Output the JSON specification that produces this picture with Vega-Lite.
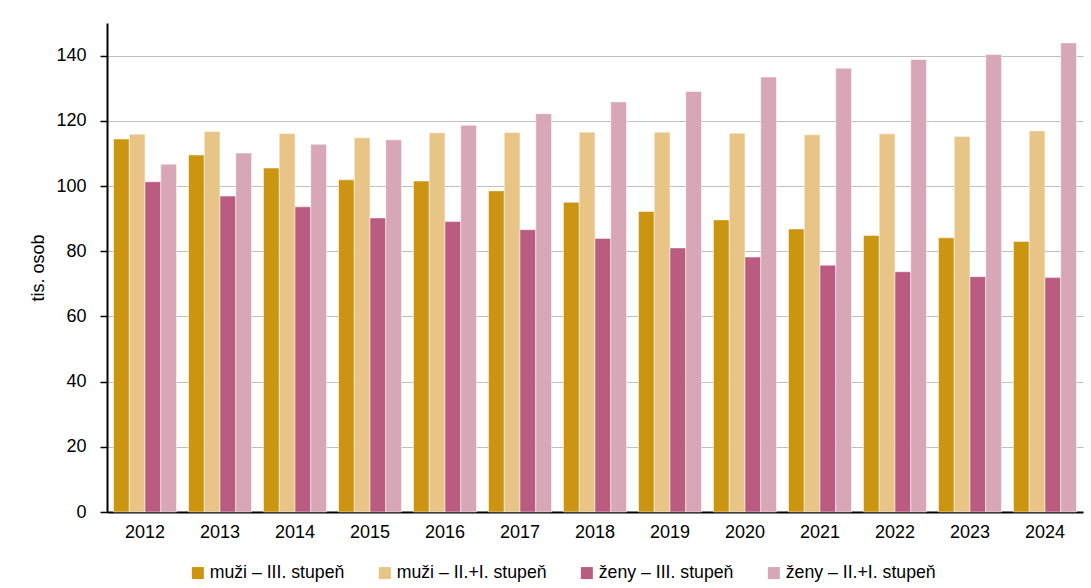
{
  "$schema": "https://vega.github.io/schema/vega-lite/v6.json",
  "width": 976,
  "height": 489,
  "autosize": {"type": "none"},
  "padding": {"left": 107, "top": 23, "right": 8, "bottom": 76},
  "background": "white",
  "config": {
    "font": "Liberation Sans",
    "view": {"stroke": null},
    "axis": {"labelFont": "Liberation Sans", "titleFont": "Liberation Sans", "labelColor": "#000000", "titleColor": "#000000"},
    "legend": {"labelFont": "Liberation Sans"}
  },
  "data": {
    "values": [
      {"rok": "2012", "skupina": "muži – III. stupeň", "hodnota": 114.4},
      {"rok": "2012", "skupina": "muži – II.+I. stupeň", "hodnota": 115.9},
      {"rok": "2012", "skupina": "ženy – III. stupeň", "hodnota": 101.3},
      {"rok": "2012", "skupina": "ženy – II.+I. stupeň", "hodnota": 106.7},
      {"rok": "2013", "skupina": "muži – III. stupeň", "hodnota": 109.5},
      {"rok": "2013", "skupina": "muži – II.+I. stupeň", "hodnota": 116.7},
      {"rok": "2013", "skupina": "ženy – III. stupeň", "hodnota": 96.9},
      {"rok": "2013", "skupina": "ženy – II.+I. stupeň", "hodnota": 110.1},
      {"rok": "2014", "skupina": "muži – III. stupeň", "hodnota": 105.5},
      {"rok": "2014", "skupina": "muži – II.+I. stupeň", "hodnota": 116.1},
      {"rok": "2014", "skupina": "ženy – III. stupeň", "hodnota": 93.6},
      {"rok": "2014", "skupina": "ženy – II.+I. stupeň", "hodnota": 112.8},
      {"rok": "2015", "skupina": "muži – III. stupeň", "hodnota": 101.9},
      {"rok": "2015", "skupina": "muži – II.+I. stupeň", "hodnota": 114.8},
      {"rok": "2015", "skupina": "ženy – III. stupeň", "hodnota": 90.2},
      {"rok": "2015", "skupina": "ženy – II.+I. stupeň", "hodnota": 114.2},
      {"rok": "2016", "skupina": "muži – III. stupeň", "hodnota": 101.5},
      {"rok": "2016", "skupina": "muži – II.+I. stupeň", "hodnota": 116.3},
      {"rok": "2016", "skupina": "ženy – III. stupeň", "hodnota": 89.1},
      {"rok": "2016", "skupina": "ženy – II.+I. stupeň", "hodnota": 118.6},
      {"rok": "2017", "skupina": "muži – III. stupeň", "hodnota": 98.5},
      {"rok": "2017", "skupina": "muži – II.+I. stupeň", "hodnota": 116.4},
      {"rok": "2017", "skupina": "ženy – III. stupeň", "hodnota": 86.6},
      {"rok": "2017", "skupina": "ženy – II.+I. stupeň", "hodnota": 122.2},
      {"rok": "2018", "skupina": "muži – III. stupeň", "hodnota": 95.0},
      {"rok": "2018", "skupina": "muži – II.+I. stupeň", "hodnota": 116.5},
      {"rok": "2018", "skupina": "ženy – III. stupeň", "hodnota": 83.9},
      {"rok": "2018", "skupina": "ženy – II.+I. stupeň", "hodnota": 125.8},
      {"rok": "2019", "skupina": "muži – III. stupeň", "hodnota": 92.2},
      {"rok": "2019", "skupina": "muži – II.+I. stupeň", "hodnota": 116.5},
      {"rok": "2019", "skupina": "ženy – III. stupeň", "hodnota": 81.0},
      {"rok": "2019", "skupina": "ženy – II.+I. stupeň", "hodnota": 129.0},
      {"rok": "2020", "skupina": "muži – III. stupeň", "hodnota": 89.6},
      {"rok": "2020", "skupina": "muži – II.+I. stupeň", "hodnota": 116.2},
      {"rok": "2020", "skupina": "ženy – III. stupeň", "hodnota": 78.2},
      {"rok": "2020", "skupina": "ženy – II.+I. stupeň", "hodnota": 133.4},
      {"rok": "2021", "skupina": "muži – III. stupeň", "hodnota": 86.8},
      {"rok": "2021", "skupina": "muži – II.+I. stupeň", "hodnota": 115.7},
      {"rok": "2021", "skupina": "ženy – III. stupeň", "hodnota": 75.7},
      {"rok": "2021", "skupina": "ženy – II.+I. stupeň", "hodnota": 136.1},
      {"rok": "2022", "skupina": "muži – III. stupeň", "hodnota": 84.8},
      {"rok": "2022", "skupina": "muži – II.+I. stupeň", "hodnota": 116.0},
      {"rok": "2022", "skupina": "ženy – III. stupeň", "hodnota": 73.7},
      {"rok": "2022", "skupina": "ženy – II.+I. stupeň", "hodnota": 138.8},
      {"rok": "2023", "skupina": "muži – III. stupeň", "hodnota": 84.1},
      {"rok": "2023", "skupina": "muži – II.+I. stupeň", "hodnota": 115.2},
      {"rok": "2023", "skupina": "ženy – III. stupeň", "hodnota": 72.2},
      {"rok": "2023", "skupina": "ženy – II.+I. stupeň", "hodnota": 140.3},
      {"rok": "2024", "skupina": "muži – III. stupeň", "hodnota": 83.0},
      {"rok": "2024", "skupina": "muži – II.+I. stupeň", "hodnota": 116.9},
      {"rok": "2024", "skupina": "ženy – III. stupeň", "hodnota": 71.9},
      {"rok": "2024", "skupina": "ženy – II.+I. stupeň", "hodnota": 143.9}
    ]
  },
  "mark": {"type": "bar", "stroke": "#ffffff", "strokeWidth": 0.8, "strokeOpacity": 0.6},
  "encoding": {
    "x": {
      "field": "rok",
      "type": "nominal",
      "scale": {"paddingInner": 0.16, "paddingOuter": 0.087},
      "axis": {
        "title": null,
        "labelAngle": 0,
        "labelFontSize": 18,
        "labelPadding": 11,
        "ticks": false,
        "tickSize": 0,
        "domainColor": "#000000",
        "domainWidth": 2,
        "grid": false
      }
    },
    "xOffset": {
      "field": "skupina",
      "type": "nominal",
      "sort": ["muži – III. stupeň", "muži – II.+I. stupeň", "ženy – III. stupeň", "ženy – II.+I. stupeň"],
      "scale": {"paddingInner": 0, "paddingOuter": 0}
    },
    "y": {
      "field": "hodnota",
      "type": "quantitative",
      "scale": {"domain": [0, 150], "nice": false},
      "axis": {
        "title": "tis. osob",
        "titleFontSize": 18,
        "titleFontWeight": "normal",
        "titlePadding": 8,
        "values": [0, 20, 40, 60, 80, 100, 120, 140],
        "labelFontSize": 18,
        "labelPadding": 14,
        "tickSize": 7,
        "tickColor": "#000000",
        "tickWidth": 1.5,
        "domainColor": "#000000",
        "domainWidth": 2,
        "gridColor": "#BFBFBF",
        "gridWidth": 1
      }
    },
    "color": {
      "field": "skupina",
      "type": "nominal",
      "scale": {
        "domain": ["muži – III. stupeň", "muži – II.+I. stupeň", "ženy – III. stupeň", "ženy – II.+I. stupeň"],
        "range": ["#CC9511", "#E8C587", "#B95C80", "#D8A7B7"]
      },
      "legend": {
        "title": null,
        "orient": "none",
        "direction": "horizontal",
        "legendX": 82,
        "legendY": 541,
        "symbolType": "square",
        "symbolSize": 144,
        "symbolStrokeWidth": 0,
        "labelFontSize": 17.7,
        "labelOffset": 3,
        "columnPadding": 31,
        "labelLimit": 400
      }
    }
  }
}
